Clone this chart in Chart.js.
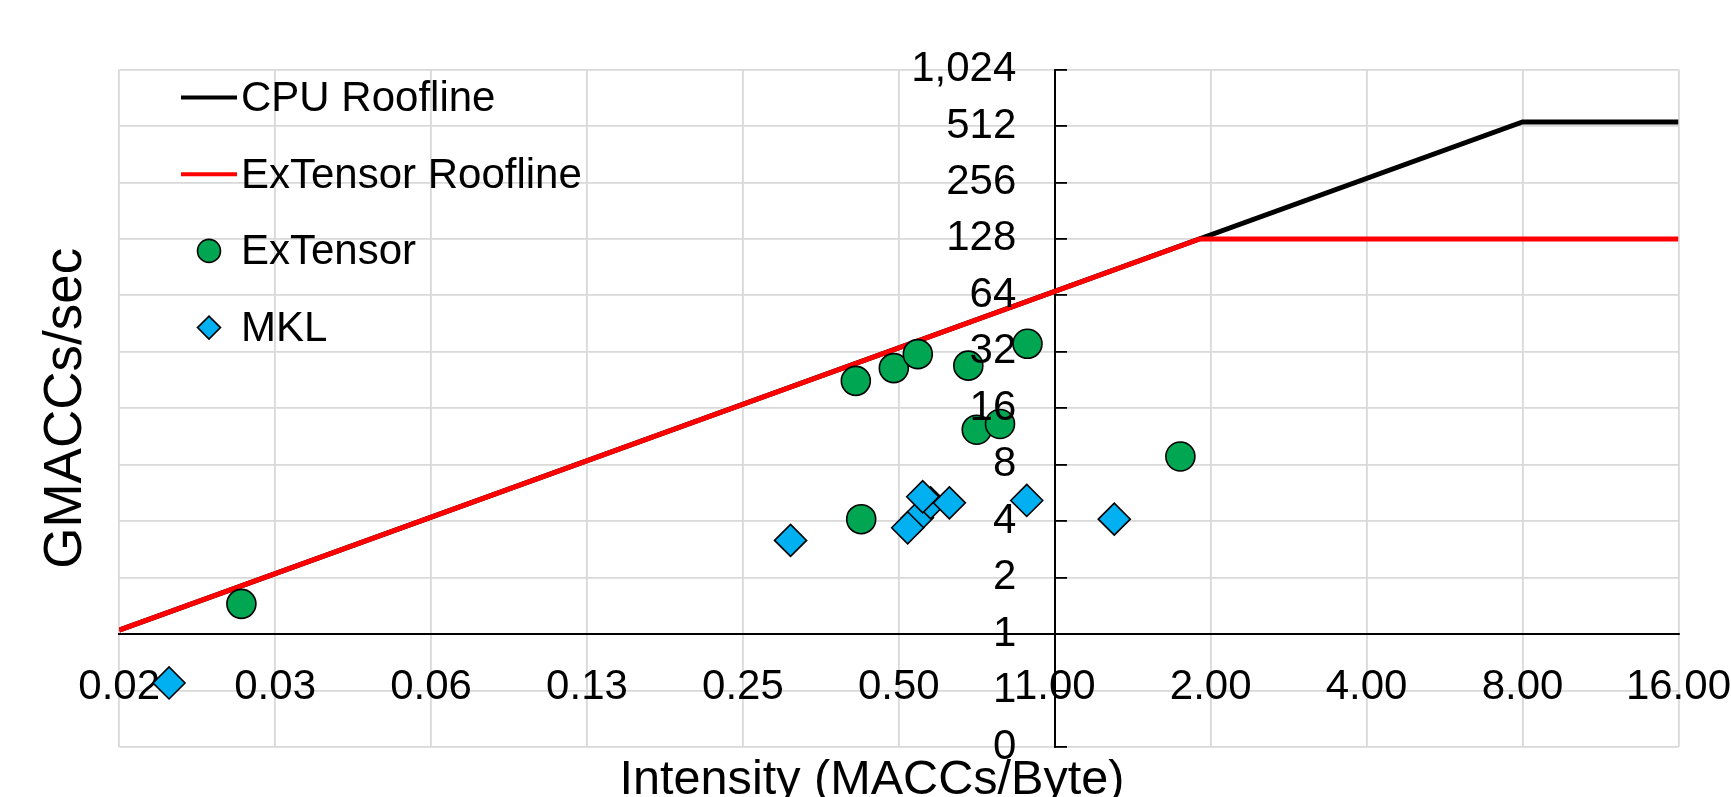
<!DOCTYPE html>
<html>
<head>
<meta charset="utf-8">
<title>Roofline</title>
<script src="https://cdn.jsdelivr.net/npm/chart.js@4.4.1/dist/chart.umd.min.js"></script>
<style>
  html, body { margin: 0; padding: 0; background: #fff; overflow: hidden; }
  canvas { display: block; }
</style>
</head>
<body>
<canvas id="roofline" width="1731" height="797"></canvas>
<script>
// tick positions (powers of two)
const xTicks = [0.015625, 0.03125, 0.0625, 0.125, 0.25, 0.5, 1, 2, 4, 8, 16];
const yTicks = [0.25, 0.5, 1, 2, 4, 8, 16, 32, 64, 128, 256, 512, 1024];

// roofline corners
const cpuRoofX = [0.015625, 8, 16];
const cpuRoofY = [1.05, 537.6, 537.6];
const extRoofX = [0.015625, 1.905, 16];
const extRoofY = [1.05, 128, 128];

// measured points
const extensorX = [0.0269, 0.413, 0.489, 0.544, 0.681, 0.886, 0.707, 0.784, 1.748, 0.423];
const extensorY = [1.45, 22.4, 26.2, 31.1, 27.0, 35.3, 12.3, 13.2, 8.85, 4.10];
const mklX = [0.0195, 0.309, 0.543, 0.520, 0.576, 0.556, 0.626, 0.883, 1.303];
const mklY = [0.549, 3.16, 4.17, 3.69, 5.01, 5.40, 5.01, 5.16, 4.10];

const pts = (xs, ys) => xs.map((x, i) => ({ x: x, y: ys[i] }));
const intFmt = new Intl.NumberFormat('en-US', { maximumFractionDigits: 0 });

const FONT = '"Liberation Sans", Arial, sans-serif';
Chart.defaults.font.family = FONT;
Chart.defaults.color = '#000';

// legend drawn inside the plot, Excel style
const insideLegend = {
    id: 'insideLegend',
    afterDraw(chart, args, o) {
        const ctx = chart.ctx;
        ctx.save();
        ctx.font = o.fontSize + 'px ' + FONT;
        ctx.textBaseline = 'middle';
        ctx.textAlign = 'left';
        chart.data.datasets.forEach((ds, i) => {
            const y = o.top + i * o.rowHeight;
            const sy = y - 2;
            if (ds.showLine) {
                ctx.strokeStyle = ds.borderColor;
                ctx.lineWidth = 4;
                ctx.beginPath();
                ctx.moveTo(o.symbolX - o.lineHalf, sy);
                ctx.lineTo(o.symbolX + o.lineHalf, sy);
                ctx.stroke();
            } else {
                ctx.fillStyle = ds.pointBackgroundColor;
                ctx.strokeStyle = ds.pointBorderColor;
                ctx.lineWidth = ds.pointBorderWidth;
                Chart.helpers.drawPoint(ctx, { pointStyle: ds.pointStyle, radius: o.markerRadius, borderWidth: ds.pointBorderWidth, rotation: 0 }, o.symbolX, sy);
            }
            ctx.fillStyle = '#000';
            ctx.fillText(ds.label, o.textX, y);
        });
        ctx.restore();
    }
};

new Chart(document.getElementById('roofline'), {
    type: 'scatter',
    data: {
        datasets: [
            { label: 'CPU Roofline', data: pts(cpuRoofX, cpuRoofY), showLine: true, borderColor: '#000000', borderWidth: 5, pointRadius: 0, order: 4 },
            { label: 'ExTensor Roofline', data: pts(extRoofX, extRoofY), showLine: true, borderColor: '#ff0000', borderWidth: 5, pointRadius: 0, order: 3 },
            { label: 'ExTensor', data: pts(extensorX, extensorY), pointStyle: 'circle', pointRadius: 14.5, pointBackgroundColor: '#00a651', pointBorderColor: '#000000', pointBorderWidth: 1.6, order: 2 },
            { label: 'MKL', data: pts(mklX, mklY), pointStyle: 'rectRot', pointRadius: 16, pointBackgroundColor: '#00b0f0', pointBorderColor: '#000000', pointBorderWidth: 1.6, order: 1 }
        ]
    },
    options: {
        responsive: false,
        animation: false,
        events: [],
        layout: { padding: { top: 69.5, right: 40, bottom: 0, left: 53 } },
        plugins: {
            legend: { display: false },
            tooltip: { enabled: false },
            title: {
                display: true, position: 'bottom', text: 'Intensity (MACCs/Byte)', color: '#000',
                font: { size: 48.6, weight: 'normal', lineHeight: 0.6 },
                padding: { top: 19.2, bottom: 1.6 }
            },
            insideLegend: { fontSize: 42, top: 99.5, rowHeight: 76.7, symbolX: 209, textX: 241, lineHalf: 28, markerRadius: 11.5 }
        },
        scales: {
            x: {
                type: 'logarithmic', min: 0.015625, max: 16,
                position: { y: 1 },
                afterBuildTicks: (s) => { s.ticks = xTicks.map(v => ({ value: v })); },
                ticks: { autoSkip: false, maxRotation: 0, padding: 0, font: { size: 42 }, color: '#000',
                    callback: (v) => Number(v).toFixed(2) },
                grid: { color: '#d9d9d9', lineWidth: 1.8, drawTicks: true, tickLength: 27.7, tickColor: 'rgba(0,0,0,0)' },
                border: { color: '#000', width: 2 }
            },
            y: {
                type: 'logarithmic', min: 0.25, max: 1024,
                position: { x: 1 },
                afterBuildTicks: (s) => { s.ticks = yTicks.map(v => ({ value: v })); },
                ticks: { autoSkip: false, padding: 0, z: 1, font: { size: 42 }, color: '#000',
                    callback: (v) => intFmt.format(v) + '\u2002\u2005\u2006' },
                grid: { color: '#d9d9d9', lineWidth: 1.8, drawTicks: true, tickLength: -13, tickColor: '#000', tickWidth: 1.8 },
                border: { color: '#000', width: 2 }
            },
            yTitle: {
                axis: 'y', type: 'linear', position: 'left',
                grid: { display: false, drawTicks: false },
                border: { display: false },
                ticks: { display: false },
                title: { display: true, text: 'GMACCs/sec', color: '#000', font: { size: 53, lineHeight: 0.5 }, padding: { top: 0, bottom: 39.7 } }
            }
        }
    },
    plugins: [insideLegend]
});
</script>
</body>
</html>
